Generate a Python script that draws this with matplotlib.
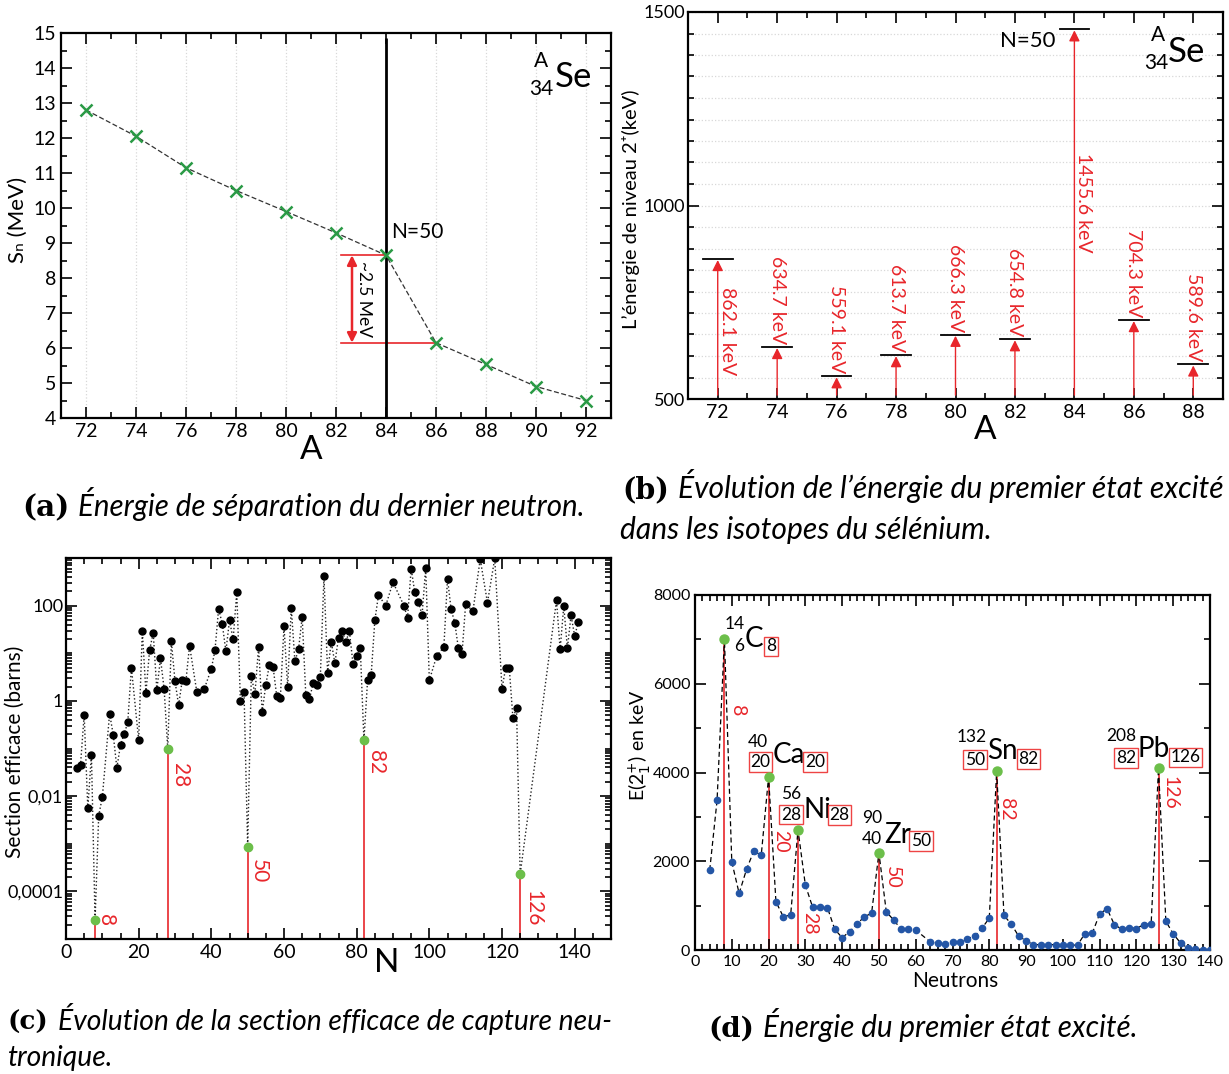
import matplotlib
matplotlib.use('Agg')
import matplotlib.pyplot as plt
from matplotlib.ticker import MultipleLocator, FixedLocator, FixedFormatter, LogLocator, NullFormatter

W, H = 1229, 1074
plt.rcParams['font.family'] = ['Lato', 'DejaVu Sans']
plt.rcParams['mathtext.fontset'] = 'dejavusans'

RED = '#e8262b'
GREEN_X = '#2a9a45'
GREEN = '#6cbf4a'
BLUE = '#2456a6'

# ---------------- data ----------------
# (a) neutron separation energy of Se isotopes
a_mass = [72, 74, 76, 78, 80, 82, 84, 86, 88, 90, 92]
a_sn = [12.8, 12.05, 11.15, 10.5, 9.9, 9.29, 8.65, 6.15, 5.53, 4.9, 4.5]

# (b) first 2+ energy of Se isotopes
b_mass = [72, 74, 76, 78, 80, 82, 84, 86, 88]
b_e2 = [862.1, 634.7, 559.1, 613.7, 666.3, 654.8, 1455.6, 704.3, 589.6]
b_labels = ['862.1 keV', '634.7 keV', '559.1 keV', '613.7 keV', '666.3 keV',
            '654.8 keV', '1455.6 keV', '704.3 keV', '589.6 keV']

# (c) neutron capture cross section
c_n = [3, 4, 5, 6, 7, 8, 9, 10, 12, 13, 14, 15, 16, 17, 18, 20, 21, 22, 23, 24,
       25, 26, 27, 28, 29, 30, 31, 32, 33, 34, 36, 38, 40, 41, 42, 43, 44, 45, 46, 47,
       48, 49, 50, 51, 52, 53, 54, 55, 56, 57, 58, 59, 60, 61, 62, 63, 64, 65, 66, 67,
       68, 69, 70, 71, 72, 73, 74, 75, 76, 77, 78, 79, 80, 81, 82, 83, 84, 85, 86, 88,
       90, 93, 94, 95, 96, 97, 98, 99, 100, 102, 104, 105, 106, 107, 108, 109, 110, 112, 114, 116,
       118, 120, 121, 122, 123, 124, 125, 135, 136, 137, 138, 139, 140, 141]
c_sigma = [0.039, 0.046, 0.51, 0.0056, 0.074, 0.000025, 0.0039, 0.0095, 0.54, 0.195,
           0.039, 0.12, 0.20, 0.355, 5.0, 0.15, 30, 1.48, 11.5, 27,
           1.7, 7.8, 1.8, 0.10, 17.8, 2.6, 0.81, 2.75, 2.6, 14.5,
           1.55, 1.74, 4.7, 11.5, 85, 42, 11, 49, 19.5, 195,
           1.0, 1.55, 0.00087, 3.3, 1.4, 13.5, 0.59, 2.2, 5.8, 5.1,
           1.26, 1.17, 37, 1.95, 91, 6.8, 12, 58, 1.32, 1.07,
           2.35, 2.2, 3.2, 410, 3.9, 17.4, 6.2, 21, 30, 17.4,
           29, 5.9, 8.7, 12.6, 0.148, 2.7, 3.55, 49, 166, 100,
           310, 100, 55, 600, 190, 120, 63, 630, 2.7, 8.7,
           13.5, 370, 83, 44, 12.6, 9.8, 110, 76, 950, 115,
           980, 1.8, 4.9, 4.9, 0.44, 0.71, 0.00023, 129, 12, 98,
           12.6, 63, 23, 45]
c_magic_n = [8, 28, 50, 82, 125]
c_magic_labels = ['8', '28', '50', '82', '126']

# (d) first 2+ energy vs neutron number
d_n = [4, 6, 8, 10, 12, 14, 16, 18, 20, 22, 24, 26, 28, 30, 32, 34, 36, 38, 40, 42,
       44, 46, 48, 50, 52, 54, 56, 58, 60, 64, 66, 68, 70, 72, 74, 76, 78, 80, 82, 84,
       86, 88, 90, 92, 94, 96, 98, 100, 102, 104, 106, 108, 110, 112, 114, 116, 118, 120, 122, 124,
       126, 128, 130, 132, 134, 136, 138, 140]
d_e = [1800, 3375, 7012, 1988, 1275, 1815, 2235, 2130, 3900, 1088, 750, 788, 2708, 1463, 960, 960, 953, 465, 278, 413,
       578, 750, 825, 2190, 863, 675, 473, 473, 450, 180, 159, 128, 174, 181, 257, 310, 491, 717, 4024, 778,
       581, 310, 211, 121, 121, 121, 121, 106, 106, 113, 370, 378, 815, 929, 574, 468, 506, 483, 574, 589,
       4092, 649, 362, 159, 38, 23, 8, 8]
d_magic_n = [8, 20, 28, 50, 82, 126]
d_magic_labels = ['8', '20', '28', '50', '82', '126']

# ---------------- figure ----------------
fig = plt.figure(figsize=(W / 100, H / 100), dpi=100)


def axes_px(l, t, r, b):
    return fig.add_axes([l / W, 1 - b / H, (r - l) / W, (b - t) / H])


def style(ax, size=14, lw=1.6):
    ax.tick_params(which='both', direction='in', top=True, right=True, labelsize=size, width=1.2)
    ax.tick_params(which='major', length=8)
    ax.tick_params(which='minor', length=4)
    for s in ax.spines.values():
        s.set_linewidth(lw)


def ftext(x, y, s, **kw):
    return fig.text(x / W, 1 - y / H, s, **kw)


# ---------- (a) ----------
axa = axes_px(61, 33, 611, 418)
axa.set_xlim(71, 93)
axa.set_ylim(4, 15)
axa.xaxis.set_major_locator(MultipleLocator(2))
axa.xaxis.set_minor_locator(MultipleLocator(1))
axa.yaxis.set_major_locator(MultipleLocator(1))
axa.yaxis.set_minor_locator(MultipleLocator(0.5))
axa.set_axisbelow(True)
axa.grid(axis='x', which='major', color='#d8d8d8', ls=':', lw=0.9)
style(axa)
axa.plot(a_mass, a_sn, ls=(0, (4, 2)), color='#333333', lw=0.9, zorder=2)
axa.plot(a_mass, a_sn, ls='none', marker='x', ms=9, mew=1.8, color=GREEN_X, zorder=3)
axa.plot([84, 84], [4, 14.85], color='black', lw=2.0, zorder=2.5, solid_capstyle='butt')
axa.plot([82.2, 84], [a_sn[6], a_sn[6]], color=RED, lw=1.2, zorder=2)
axa.plot([82.2, 86], [a_sn[7], a_sn[7]], color=RED, lw=1.2, zorder=2)
axa.annotate('', xy=(82.64, a_sn[6]), xytext=(82.64, a_sn[7]),
             arrowprops=dict(arrowstyle='<|-|>', color=RED, lw=1.8, mutation_scale=14,
                             shrinkA=0, shrinkB=0))
axa.text(83.12, 7.4, '~2.5 MeV', rotation=-90, ha='center', va='center', fontsize=12.5)
axa.text(84.19, 9.32, 'N=50', ha='left', va='center', fontsize=15)
axa.text(90.2, 14.2, 'A', ha='center', va='center', fontsize=15)
axa.text(90.2, 13.4, '34', ha='center', va='center', fontsize=15)
axa.text(90.75, 13.74, 'Se', ha='left', va='center', fontsize=25)
ftext(311, 450, 'A', ha='center', va='center', fontsize=24)
ftext(18, 220, 'Sₙ (MeV)', ha='center', va='center', rotation=90, fontsize=16)

# ---------- (b) ----------
axb = axes_px(688, 12, 1223, 399)
axb.set_xlim(71, 89)
axb.set_ylim(500, 1500)
axb.xaxis.set_major_locator(MultipleLocator(2))
axb.xaxis.set_minor_locator(MultipleLocator(1))
axb.yaxis.set_major_locator(MultipleLocator(500))
axb.yaxis.set_minor_locator(MultipleLocator(500 / 9))
axb.set_axisbelow(True)
axb.grid(axis='y', which='both', color='#d8d8d8', ls=':', lw=0.9)
style(axb)
axb.tick_params(axis='y', labelsize=13, pad=2)
for i, (m, e, lab) in enumerate(zip(b_mass, b_e2, b_labels)):
    axb.plot([m - 0.5, m + 0.5], [e, e], color='black', lw=1.3, zorder=3)
    axb.annotate('', xy=(m, e - 3), xytext=(m, 510),
                 arrowprops=dict(arrowstyle='-|>', color=RED, lw=1.0, mutation_scale=16,
                                 shrinkA=0, shrinkB=0))
    if m == 72:
        axb.text(m + 0.32, 790, lab, rotation=-90, ha='center', va='top', color=RED, fontsize=14)
    elif m == 84:
        axb.text(m + 0.32, 1135, lab, rotation=-90, ha='center', va='top', color=RED, fontsize=14)
    else:
        axb.text(m, e + 7, lab, rotation=-90, ha='center', va='bottom', color=RED, fontsize=14)
axb.text(83.37, 1425, 'N=50', ha='right', va='center', fontsize=16)
axb.text(86.8, 1441, 'A', ha='center', va='center', fontsize=15)
axb.text(86.75, 1368, '34', ha='center', va='center', fontsize=15)
axb.text(87.16, 1397, 'Se', ha='left', va='center', fontsize=25)
ftext(985, 430, 'A', ha='center', va='center', fontsize=24)
ftext(631, 209, 'L’énergie de niveau 2⁺(keV)', ha='center', va='center', rotation=90, fontsize=14.5)

# ---------- (c) ----------
axc = axes_px(66, 558, 611, 939)
axc.set_yscale('log')
axc.set_xlim(0, 150)
axc.set_ylim(1e-5, 1e3)
axc.xaxis.set_major_locator(MultipleLocator(20))
axc.xaxis.set_minor_locator(MultipleLocator(5))
axc.yaxis.set_major_locator(FixedLocator([1e-4, 1e-2, 1, 1e2]))
axc.yaxis.set_major_formatter(FixedFormatter(['0,0001', '0,01', '1', '100']))
axc.yaxis.set_minor_locator(LogLocator(base=10, subs=range(1, 10), numticks=30))
axc.yaxis.set_minor_formatter(NullFormatter())
style(axc)
axc.tick_params(axis='y', labelsize=13, pad=2)
axc.plot(c_n, c_sigma, ls=':', color='#222222', lw=1.0, zorder=2)
axc.plot(c_n, c_sigma, ls='none', marker='o', ms=5, color='black', zorder=3)
c_offsets = {'8': (3.0, 1.0), '28': (3.4, 0.5), '50': (3.1, 0.56), '82': (3.2, 0.64), '126': (3.5, 0.46)}
for n, lab in zip(c_magic_n, c_magic_labels):
    v = c_sigma[c_n.index(n)]
    axc.plot([n, n], [1e-5, v], color=RED, lw=1.2, zorder=1)
    axc.plot([n], [v], ls='none', marker='o', ms=6, color=GREEN, zorder=4)
    dx, fy = c_offsets[lab]
    axc.text(n + dx, v * fy, lab, rotation=-90, ha='center', va='center' if lab == '8' else 'top',
             color=RED, fontsize=15)
ftext(387, 963, 'N', ha='center', va='center', fontsize=24)
ftext(15, 752, 'Section efficace (barns)', ha='center', va='center', rotation=90, fontsize=15)

# ---------- (d) ----------
axd = axes_px(695, 595, 1210, 950)
axd.set_xlim(0, 140)
axd.set_ylim(0, 8000)
axd.xaxis.set_major_locator(MultipleLocator(10))
axd.xaxis.set_minor_locator(MultipleLocator(2))
axd.yaxis.set_major_locator(MultipleLocator(2000))
axd.yaxis.set_minor_locator(MultipleLocator(1000))
style(axd, size=11.5)
axd.plot(d_n, d_e, ls=(0, (4, 2.5)), color='black', lw=0.9, zorder=2)
axd.plot(d_n, d_e, ls='none', marker='o', ms=4.5, color=BLUE, zorder=3)
d_lab_pos = {'8': (11.5, 5400), '20': (23.4, 2440), '28': (31.2, 600),
             '50': (53.7, 1630), '82': (84.8, 3170), '126': (129.1, 3530)}
for n, lab in zip(d_magic_n, d_magic_labels):
    v = d_e[d_n.index(n)]
    axd.plot([n, n], [0, v], color=RED, lw=1.2, zorder=1)
    axd.plot([n], [v], ls='none', marker='o', ms=6.5, color=GREEN, zorder=4)
    x, y = d_lab_pos[lab]
    axd.text(x, y, lab, rotation=-90, ha='center', va='center', color=RED, fontsize=14)

box = dict(boxstyle='square,pad=0.1', fc='white', ec='#ee4444', lw=1.0)
BIG, SM = 20, 12.5
nuclides = [
    # symbol (x, y), mass (x, y), Z (x, y, boxed), N (x, y)
    ('C', (13.6, 7010), '14', (13.4, 7340), '6', (13.3, 6850), False, '8', (19.3, 6840)),
    ('Ca', (21.2, 4390), '40', (19.7, 4690), '20', (20.5, 4240), True, '20', (29.9, 4240)),
    ('Ni', (29.6, 3150), '56', (28.9, 3525), '28', (28.8, 3050), True, '28', (36.6, 3040)),
    ('Zr', (51.4, 2590), '90', (50.9, 2985), '40', (50.9, 2510), False, '50', (58.7, 2460)),
    ('Sn', (79.3, 4490), '132', (79.2, 4794), '50', (78.9, 4290), True, '82', (87.9, 4300)),
    ('Pb', (120.4, 4530), '208', (120.1, 4830), '82', (119.9, 4330), True, '126', (129.3, 4340)),
]
for sym, sp, mass, mp, z, zp, zbox, nn, npos in nuclides:
    axd.text(sp[0], sp[1], sym, ha='left', va='center', fontsize=BIG)
    axd.text(mp[0], mp[1], mass, ha='right', va='center', fontsize=SM)
    axd.text(zp[0], zp[1], z, ha='right', va='center', fontsize=SM, bbox=box if zbox else None)
    axd.text(npos[0], npos[1], nn, ha='left', va='center', fontsize=SM, bbox=box)
ftext(955, 981, 'Neutrons', ha='center', va='center', fontsize=15)
ftext(640, 745, r'E(2$_1^{+}$) en keV', ha='center', va='center', rotation=90, fontsize=14)

# ---------- captions ----------
renderer = fig.canvas.get_renderer()


def fit(t, width, size):
    bb = t.get_window_extent(renderer)
    t.set_fontsize(size * width / bb.width)
    return size * width / bb.width


def caption(xl, xt, xe, y, lab, txt, size=17):
    t = ftext(xt, y, txt, fontsize=size, style='italic', family='Lato', va='baseline', ha='left')
    s = fit(t, xe - xt, size)
    tl = ftext(xl, y, lab, fontsize=s, fontweight='bold', family='DejaVu Serif', va='baseline', ha='left')
    fit(tl, xt - xl - 9, s)
    return s


s = caption(22, 78, 585, 516, '(a)', 'Énergie de séparation du dernier neutron.')
s = caption(622, 678, 1224, 498, '(b)', 'Évolution de l’énergie du premier état excité')
ftext(620, 539, 'dans les isotopes du sélénium.', style='italic', family='Lato',
      va='baseline', ha='left', fontsize=s)
s = caption(8, 58, 612, 1030, '(c)', 'Évolution de la section efficace de capture neu-')
ftext(8, 1066, 'tronique.', style='italic', family='Lato', va='baseline', ha='left', fontsize=s)
caption(708, 763, 1138, 1037, '(d)', 'Énergie du premier état excité.')

fig.savefig('out.png', dpi=100)
